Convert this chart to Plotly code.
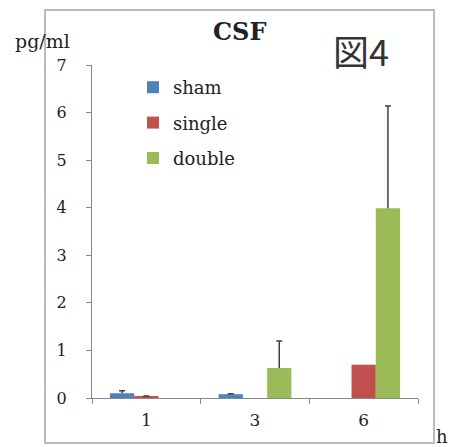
import plotly.graph_objects as go

categories = ["1", "3", "6"]
series_names = ["sham", "single", "double"]
sham = [0.10, 0.08, None]
single = [0.03, None, 0.70]
double = [None, 0.63, 3.99]
sham_err = [0.05, 0.01, None]
single_err = [0.01, None, None]
double_err = [None, 0.57, 2.15]
colors = ["#4F81BD", "#C0504D", "#9BBB59"]
y_ticks = [0, 1, 2, 3, 4, 5, 6, 7]

FONT = "DejaVu Serif"
ERR_COLOR = "#404040"

fig = go.Figure()
all_vals = [sham, single, double]
all_errs = [sham_err, single_err, double_err]
for i, (name, vals, errs) in enumerate(zip(series_names, all_vals, all_errs)):
    fig.add_trace(go.Bar(
        x=categories, y=vals, name=name, marker_color=colors[i],
        marker_line_width=0, legendgroup=name, offsetgroup=name,
        error_y=dict(type="data", array=[e if e is not None else 0 for e in errs],
                     arrayminus=[0] * len(errs), symmetric=False,
                     color=ERR_COLOR, thickness=1.5, width=0),
    ))
# caps at the top of the error bars (transparent bars in the same slot)
for i, (name, vals, errs) in enumerate(zip(series_names, all_vals, all_errs)):
    tops = [(v + e) if (v is not None and e is not None) else None for v, e in zip(vals, errs)]
    fig.add_trace(go.Bar(
        x=categories, y=tops, name=name + " cap", marker_color="rgba(0,0,0,0)",
        marker_line_width=0, offsetgroup=name, showlegend=False, hoverinfo="skip",
        error_y=dict(type="data", array=[0] * len(tops), symmetric=True,
                     color=ERR_COLOR, thickness=1.5, width=3),
    ))

L, R, T, B = 92, 32, 65, 49
W, H = 450, 447
pw, ph = W - L - R, H - T - B

def px(x):
    return (x - L) / pw

def py(y):
    return (H - B - y) / ph

fig.update_layout(
    width=W, height=H,
    margin=dict(l=L, r=R, t=T, b=B, pad=0),
    paper_bgcolor="white", plot_bgcolor="white",
    barmode="group", bargap=0.33, bargroupgap=0,
    font=dict(family=FONT, size=15, color="#222222"),
    showlegend=True,
    legend=dict(x=px(133), y=py(69), xanchor="left", yanchor="top",
                bgcolor="rgba(0,0,0,0)", font=dict(family=FONT, size=18),
                traceorder="grouped", tracegroupgap=9, itemwidth=30),
    xaxis=dict(type="category", showline=True, linecolor="#888888", linewidth=1,
               ticks="outside", ticklen=5, tickcolor="#888888",
               tickson="boundaries", showgrid=False, zeroline=False,
               ticklabelstandoff=7, tickfont=dict(family=FONT, size=17)),
    yaxis=dict(range=[0, 7], tickvals=y_ticks, showline=True, linecolor="#888888",
               linewidth=1, ticks="outside", ticklen=5, tickcolor="#888888",
               showgrid=False, zeroline=False, ticklabelstandoff=16,
               tickfont=dict(family=FONT, size=16)),
    shapes=[dict(type="rect", xref="paper", yref="paper",
                 x0=px(45), x1=px(434), y0=py(443), y1=py(10),
                 line=dict(color="#BBBBBB", width=2), fillcolor="rgba(0,0,0,0)",
                 layer="below")],
    annotations=[
        dict(text="<b>CSF</b>", xref="paper", yref="paper", x=px(239), y=py(32),
             showarrow=False, font=dict(family=FONT, size=24), xanchor="center", yanchor="middle"),
        dict(text="図4", xref="paper", yref="paper", x=px(361), y=py(50),
             showarrow=False, font=dict(family="Noto Sans CJK JP", size=36, color="#333333"),
             xanchor="center", yanchor="middle"),
        dict(text="pg/ml", xref="paper", yref="paper", x=px(13), y=py(41),
             showarrow=False, font=dict(family=FONT, size=19), xanchor="left", yanchor="middle"),
        dict(text="h", xref="paper", yref="paper", x=px(434), y=py(437),
             showarrow=False, font=dict(family=FONT, size=18), xanchor="left", yanchor="middle"),
    ],
)

fig.write_html("out.html", config={"displayModeBar": False},
               post_script="document.body.style.margin='0';")
